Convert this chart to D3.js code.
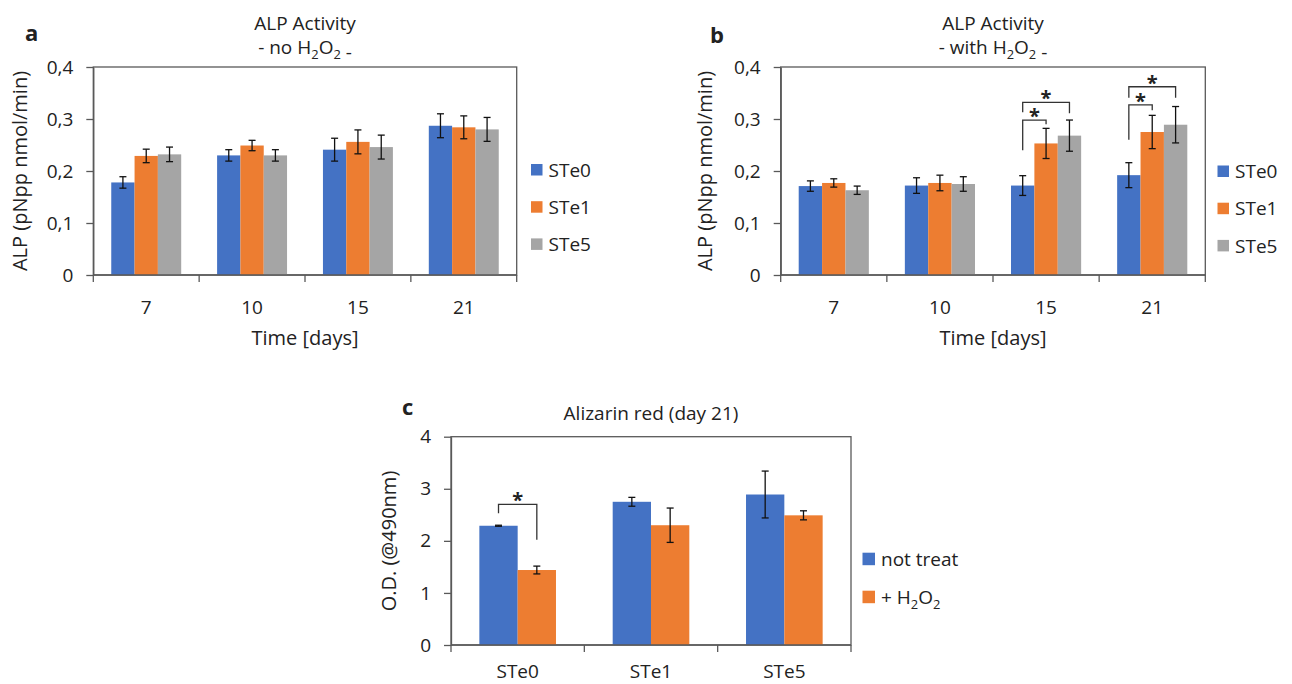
<!DOCTYPE html>
<html><head><meta charset="utf-8">
<script src="https://cdn.jsdelivr.net/npm/d3@7"></script>
<style>
body{margin:0;background:#fff}
svg{display:block}
text{font-family:"Open Sans",sans-serif;fill:#222}
</style>
</head><body>
<svg id="chart" width="1292" height="684"></svg>
<script>
// ---------- DATA ----------
const days = ["7","10","15","21"];
const steSeries = ["STe0","STe1","STe5"];
const steColors = ["#4472C4","#ED7D31","#A5A5A5"];

// Panel a: ALP activity, no H2O2
const alpNoH2O2_STe0 = [0.178, 0.230, 0.241, 0.287];
const alpNoH2O2_STe1 = [0.229, 0.249, 0.256, 0.284];
const alpNoH2O2_STe5 = [0.232, 0.230, 0.246, 0.280];
const alpNoH2O2_err_STe0 = [0.011, 0.011, 0.022, 0.023];
const alpNoH2O2_err_STe1 = [0.013, 0.010, 0.023, 0.022];
const alpNoH2O2_err_STe5 = [0.014, 0.011, 0.023, 0.023];

// Panel b: ALP activity, with H2O2
const alpH2O2_STe0 = [0.171, 0.172, 0.172, 0.192];
const alpH2O2_STe1 = [0.177, 0.177, 0.253, 0.275];
const alpH2O2_STe5 = [0.163, 0.175, 0.268, 0.289];
const alpH2O2_err_STe0 = [0.010, 0.015, 0.019, 0.024];
const alpH2O2_err_STe1 = [0.008, 0.015, 0.029, 0.032];
const alpH2O2_err_STe5 = [0.008, 0.014, 0.030, 0.035];

// significance brackets panel b: category, series from/to, left foot, top, right foot (data units)
const bracketsB = [
  {cat:"15", from:0, to:1, left:0.240, top:0.298, right:0.290},
  {cat:"15", from:0, to:2, left:0.313, top:0.332, right:0.311},
  {cat:"21", from:0, to:1, left:0.260, top:0.327, right:0.317},
  {cat:"21", from:0, to:2, left:0.341, top:0.362, right:0.341}
];

// Panel c: Alizarin red (day 21)
const alizCats = ["STe0","STe1","STe5"];
const alizSeries = ["not treat","+ H2O2"];
const alizColors = ["#4472C4","#ED7D31"];
const aliz_notTreat = [2.29, 2.75, 2.89];
const aliz_H2O2 = [1.44, 2.30, 2.49];
const aliz_err_notTreat = [0.01, 0.085, 0.45];
const aliz_err_H2O2 = [0.075, 0.33, 0.087];
const bracketsC = [
  {cat:"STe0", from:0, to:1, left:2.53, top:2.70, right:2.02}
];

// tick values / labels
const alpTickValues = [0, 0.1, 0.2, 0.3, 0.4];
const alpTickLabels = ["0","0,1","0,2","0,3","0,4"];
const alizTickValues = [0, 1, 2, 3, 4];
const alizTickLabels = ["0","1","2","3","4"];

// ---------- DRAW ----------
const svg = d3.select("#chart");
const AXIS = "#595959";
const TICKFS = 19;

function panel(cfg){
  const g = svg.append("g");
  const x0 = d3.scaleBand().domain(cfg.cats).range([cfg.left, cfg.right]).paddingInner(0).paddingOuter(0);
  const x1 = d3.scaleBand().domain(d3.range(cfg.series.length)).range([0, x0.bandwidth()])
      .paddingInner(0).paddingOuter(cfg.outerPad);
  const y = d3.scaleLinear().domain(cfg.domain).range([cfg.bottom, cfg.top]);

  // frame
  g.append("rect").attr("x", cfg.left).attr("y", cfg.top)
    .attr("width", cfg.right - cfg.left).attr("height", cfg.bottom - cfg.top)
    .attr("fill","none").attr("stroke", AXIS).attr("stroke-width",1.3);

  // bars
  cfg.values.forEach((vals, si) => {
    g.selectAll(null).data(vals).enter().append("rect")
      .attr("x", (d,i) => x0(cfg.cats[i]) + x1(si))
      .attr("width", x1.bandwidth())
      .attr("y", d => y(d))
      .attr("height", d => y(0) - y(d))
      .attr("fill", cfg.colors[si]);
  });
  // error bars
  cfg.values.forEach((vals, si) => {
    vals.forEach((v, i) => {
      const e = cfg.errors[si][i];
      const cx = x0(cfg.cats[i]) + x1(si) + x1.bandwidth()/2;
      const eg = g.append("g").attr("stroke","#111").attr("stroke-width",1.3);
      eg.append("line").attr("x1",cx).attr("x2",cx).attr("y1",y(v+e)).attr("y2",y(v-e));
      eg.append("line").attr("x1",cx-3.5).attr("x2",cx+3.5).attr("y1",y(v+e)).attr("y2",y(v+e));
      eg.append("line").attr("x1",cx-3.5).attr("x2",cx+3.5).attr("y1",y(v-e)).attr("y2",y(v-e));
    });
  });

  // y axis
  const ya = g.append("g").attr("transform",`translate(${cfg.left},0)`)
    .call(d3.axisLeft(y).tickValues(cfg.tickValues).tickFormat((d,i)=>cfg.tickLabels[i]).tickSize(7).tickSizeOuter(0).tickPadding(13));
  ya.attr("font-size", TICKFS).attr("font-family","Open Sans, sans-serif");
  ya.select(".domain").attr("stroke", AXIS).attr("stroke-width",1.3);
  ya.selectAll(".tick line").attr("stroke", AXIS).attr("stroke-width",1.3);
  ya.selectAll(".tick text").attr("font-size",TICKFS).attr("fill","#222");

  // x axis baseline + boundary ticks
  const bounds = cfg.cats.map(c => x0(c)).concat([cfg.right]);
  g.append("line").attr("x1",cfg.left).attr("x2",cfg.right).attr("y1",cfg.bottom).attr("y2",cfg.bottom)
    .attr("stroke",AXIS).attr("stroke-width",1.3);
  g.selectAll(null).data(bounds).enter().append("line")
    .attr("x1",d=>d).attr("x2",d=>d).attr("y1",cfg.bottom).attr("y2",cfg.bottom+7)
    .attr("stroke",AXIS).attr("stroke-width",1.3);
  const xa = g.append("g").attr("transform",`translate(0,${cfg.bottom})`)
    .call(d3.axisBottom(x0).tickSize(0).tickPadding(0));
  xa.attr("font-size", TICKFS).attr("font-family","Open Sans, sans-serif");
  xa.select(".domain").remove();
  xa.selectAll(".tick text").attr("font-size",TICKFS).attr("fill","#222")
    .attr("dy",null).attr("y", cfg.xLabelDy);

  // brackets
  (cfg.brackets||[]).forEach(b => {
    const xl = x0(b.cat) + x1(b.from) + x1.bandwidth()/2;
    const xr = x0(b.cat) + x1(b.to) + x1.bandwidth()/2;
    g.append("path").attr("fill","none").attr("stroke","#333").attr("stroke-width",1.3)
      .attr("d", `M${xl},${y(b.left)}V${y(b.top)}H${xr}V${y(b.right)}`);
    g.append("text").attr("x",(xl+xr)/2).attr("y",y(b.top)+3)
      .attr("text-anchor","middle").attr("font-size",20).attr("font-weight","bold")
      .attr("fill","#1a1a1a").text("*");
  });

  // legend
  cfg.series.forEach((s, si) => {
    const ly = cfg.legendY + si*cfg.legendStep;
    g.append("rect").attr("x",cfg.legendX).attr("y",ly).attr("width",cfg.legendBox).attr("height",cfg.legendBox)
      .attr("fill",cfg.colors[si]);
    const t = g.append("text").attr("x",cfg.legendX+cfg.legendBox+6).attr("y",ly+cfg.legendBox/2+7)
      .attr("font-size",19).attr("fill","#222");
    addSubText(t, s, 19);
  });
  return {g, x0, y};
}

// writes text where "H2O2" is rendered with real subscripts
function addSubText(sel, str, fs){
  const parts = str.split(/(H2O2)/);
  parts.forEach(p => {
    if (p === "H2O2"){
      sel.append("tspan").text("H");
      sel.append("tspan").attr("dy",fs*0.25).attr("font-size",fs*0.68).text("2");
      sel.append("tspan").attr("dy",-fs*0.25).text("O");
      sel.append("tspan").attr("dy",fs*0.25).attr("font-size",fs*0.68).text("2");
      sel.append("tspan").attr("dy",-fs*0.25).text("");
    } else if (p.length) {
      sel.append("tspan").text(p);
    }
  });
}

const A = panel({
  cats: days, series: steSeries, colors: steColors,
  values:[alpNoH2O2_STe0, alpNoH2O2_STe1, alpNoH2O2_STe5],
  errors:[alpNoH2O2_err_STe0, alpNoH2O2_err_STe1, alpNoH2O2_err_STe5],
  left:93.3, right:516.7, top:67, bottom:275, domain:[0,0.4], outerPad:0.77,
  tickValues: alpTickValues, tickLabels: alpTickLabels, xLabelDy: 39,
  legendX:531, legendY:164, legendStep:37.2, legendBox:11.5
});
const B = panel({
  cats: days, series: steSeries, colors: steColors,
  values:[alpH2O2_STe0, alpH2O2_STe1, alpH2O2_STe5],
  errors:[alpH2O2_err_STe0, alpH2O2_err_STe1, alpH2O2_err_STe5],
  left:780.7, right:1205.3, top:67, bottom:275, domain:[0,0.4], outerPad:0.77,
  tickValues: alpTickValues, tickLabels: alpTickLabels, xLabelDy: 39,
  legendX:1217.5, legendY:165.5, legendStep:37.2, legendBox:11.5,
  brackets: bracketsB
});
const C = panel({
  cats: alizCats, series: alizSeries, colors: alizColors,
  values:[aliz_notTreat, aliz_H2O2],
  errors:[aliz_err_notTreat, aliz_err_H2O2],
  left:451, right:851, top:436.7, bottom:645, domain:[0,4], outerPad:0.74,
  tickValues: alizTickValues, tickLabels: alizTickLabels, xLabelDy: 33,
  legendX:862.5, legendY:552.7, legendStep:38, legendBox:12.5,
  brackets: bracketsC
});

// titles
function title(x, y, str, fs){
  const t = svg.append("text").attr("x",x).attr("y",y).attr("text-anchor","middle")
    .attr("font-size",fs).attr("fill","#222");
  addSubText(t, str, fs);
}
title(305, 30, "ALP Activity", 19);
title(305, 54, "- no H2O2 -", 19);
title(993, 30, "ALP Activity", 19);
title(993, 54, "- with H2O2 -", 19);
title(651, 420, "Alizarin red (day 21)", 19);

// axis titles
svg.append("text").attr("x",305).attr("y",345).attr("text-anchor","middle").attr("font-size",20).text("Time [days]");
svg.append("text").attr("x",993).attr("y",345).attr("text-anchor","middle").attr("font-size",20).text("Time [days]");
const YT = "#4a3b2e";
svg.append("text").attr("transform","translate(27,171) rotate(-90)").attr("text-anchor","middle")
  .attr("font-size",20).attr("fill",YT).text("ALP (pNpp nmol/min)");
svg.append("text").attr("transform","translate(712,171) rotate(-90)").attr("text-anchor","middle")
  .attr("font-size",20).attr("fill",YT).text("ALP (pNpp nmol/min)");
svg.append("text").attr("transform","translate(396,541) rotate(-90)").attr("text-anchor","middle")
  .attr("font-size",20).attr("fill",YT).text("O.D. (@490nm)");

// panel letters
[["a",25,41],["b",710,43],["c",402,415]].forEach(([l,x,y]) => {
  svg.append("text").attr("x",x).attr("y",y).attr("font-family","Liberation Sans, Arial, sans-serif")
    .attr("font-weight","bold").attr("font-size",22).attr("fill","#111").text(l);
});
</script>
</body></html>
